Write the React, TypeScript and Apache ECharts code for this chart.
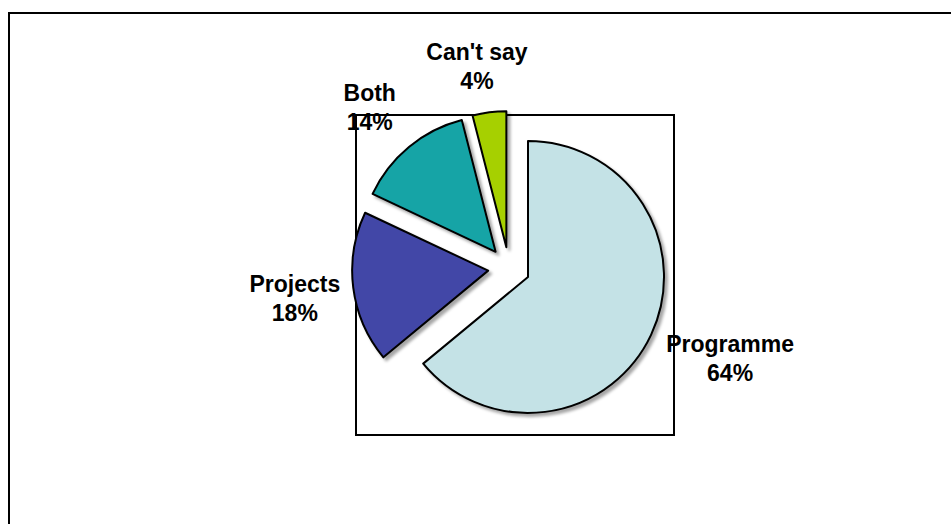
import React, { useEffect, useRef } from "react";
import * as echarts from "echarts";

const categories: string[] = ["Programme", "Projects", "Both", "Can't say"];
const values: number[] = [64, 18, 14, 4];
const colors: string[] = ["#C4E2E6", "#4347A7", "#12A4A6", "#A6D000"];

const CX = 509;
const CY = 268;
const RADIUS = 136;
const EXPLODE = 21;
const LABEL_R = 171;
const LABEL_CY = CY - 4;
const LABEL_SHIFT = (-2 * Math.PI) / 180;

export default function App() {
  const ref = useRef<HTMLDivElement>(null);
  useEffect(() => {
    if (!ref.current) return;
    const chart = echarts.init(ref.current, undefined, { renderer: "svg" });
    const total = values.reduce((a, b) => a + b, 0);
    const option: any = {
      animation: false,
      backgroundColor: "#ffffff",
      graphic: [
        {
          type: "rect",
          z: -10,
          shape: { x: 9, y: 13, width: 980, height: 560 },
          style: { fill: "none", stroke: "#000", lineWidth: 2 },
        },
        {
          type: "rect",
          z: -10,
          shape: { x: 356, y: 115, width: 318, height: 320 },
          style: { fill: "none", stroke: "#000", lineWidth: 2 },
        },
      ],
      series: [
        {
          type: "pie",
          center: [CX, CY],
          radius: RADIUS,
          startAngle: 90,
          clockwise: true,
          selectedMode: "multiple",
          selectedOffset: EXPLODE,
          emphasis: { disabled: true },
          itemStyle: {
            borderColor: "#000",
            borderWidth: 2,
            shadowColor: "rgba(0,0,0,0.35)",
            shadowBlur: 3,
            shadowOffsetX: 3,
            shadowOffsetY: 3,
          },
          select: {
            itemStyle: {
              borderColor: "#000",
              borderWidth: 2,
            },
          },
          label: { show: false },
          labelLine: { show: false },
          data: categories.map((name, i) => ({
            name,
            value: values[i],
            selected: true,
            itemStyle: { color: colors[i] },
            select: { itemStyle: { color: colors[i] } },
          })),
        },
        {
          type: "pie",
          center: [CX, CY],
          radius: RADIUS,
          startAngle: 90,
          clockwise: true,
          silent: true,
          selectedMode: false,
          emphasis: { disabled: true },
          itemStyle: { color: "rgba(0,0,0,0)", borderWidth: 0 },
          label: {
            show: true,
            position: "outside",
            formatter: "{b}\n{d}%",
            fontFamily: "Liberation Sans, Arial, sans-serif",
            fontWeight: "bold",
            fontSize: 23,
            lineHeight: 29,
            color: "#000",
            align: "center",
          },
          labelLine: { show: false },
          labelLayout: (params: any) => {
            const i = params.dataIndex;
            let before = 0;
            for (let k = 0; k < i; k++) before += values[k];
            const mid =
              ((before + values[i] / 2) / total) * Math.PI * 2 + LABEL_SHIFT;
            const dx = Math.sin(mid);
            const dy = -Math.cos(mid);
            const w = params.labelRect.width;
            const h = params.labelRect.height;
            const ex = Math.abs(dx) > 1e-6 ? w / 2 / Math.abs(dx) : Infinity;
            const ey = Math.abs(dy) > 1e-6 ? h / 2 / Math.abs(dy) : Infinity;
            const d = LABEL_R + Math.min(ex, ey);
            return {
              x: CX + d * dx,
              y: LABEL_CY + d * dy,
              align: "center",
              verticalAlign: "middle",
            };
          },
          data: categories.map((name, i) => ({ name, value: values[i] })),
        },
      ],
    };
    chart.setOption(option);
    return () => chart.dispose();
  }, []);
  return (
    <div
      ref={ref}
      style={{ position: "fixed", left: 0, top: 0, width: 951, height: 524 }}
    />
  );
}
